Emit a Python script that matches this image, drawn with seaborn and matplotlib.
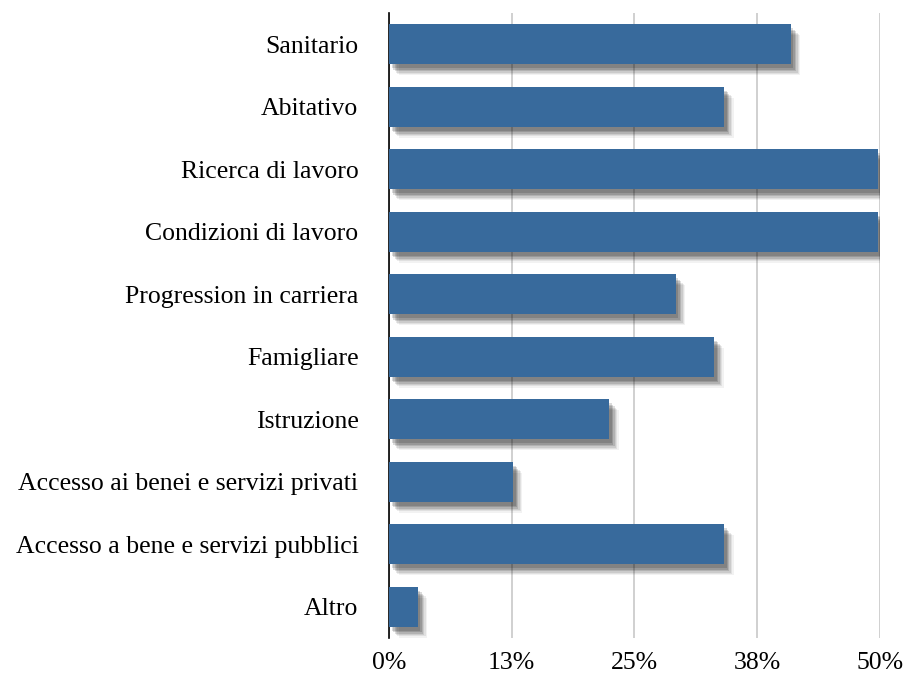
import matplotlib
matplotlib.use('Agg')
import matplotlib.pyplot as plt
import matplotlib.patheffects as pe
import pandas as pd
import seaborn as sns

# --- Data ---
categories = ['Sanitario', 'Abitativo', 'Ricerca di lavoro', 'Condizioni di lavoro',
              'Progression in carriera', 'Famigliare', 'Istruzione',
              'Accesso ai benei e servizi privati', 'Accesso a bene e servizi pubblici',
              'Altro']
values = [40.9, 34.1, 49.8, 49.8, 29.2, 33.1, 22.4, 12.6, 34.1, 2.9]
tick_values = [0, 12.5, 25, 37.5, 50]
tick_labels = ['0%', '13%', '25%', '38%', '50%']

df = pd.DataFrame({'Categoria': categories, 'Valore': values})

sns.set_style('white')
plt.rcParams['font.family'] = ['Liberation Serif', 'DejaVu Serif']

fig = plt.figure(figsize=(9.09, 6.82), dpi=100)
ax = fig.add_axes([0.428, 0.0645, 0.540, 0.9165])

sns.barplot(data=df, y='Categoria', x='Valore', orient='h', color='#386a9c',
            saturation=1, width=0.64, linewidth=0, ax=ax, zorder=3)

# soft drop shadow built from a few stacked offsets
shadow = []
for dx, dy, a in [(7, -8, 0.05), (6, -7, 0.07), (5, -6, 0.09), (4, -5, 0.12),
                  (3, -4, 0.14), (2, -3, 0.14)]:
    shadow.append(pe.SimplePatchShadow(offset=(dx, dy), shadow_rgbFace='black', alpha=a))
for bar in ax.patches:
    bar.set_path_effects(shadow + [pe.Normal()])

ax.set_xlim(0, 50)
ax.set_ylim(9.5, -0.5)
ax.set_xticks(tick_values)
ax.set_xticklabels(tick_labels)
ax.xaxis.grid(True, color='#c8c8c8', linewidth=1.2, zorder=0)
ax.set_axisbelow(True)
ax.set_xlabel('')
ax.set_ylabel('')

for side in ['top', 'right', 'bottom']:
    ax.spines[side].set_visible(False)
ax.spines['left'].set_color('black')
ax.spines['left'].set_linewidth(1.2)

ax.tick_params(axis='y', length=0, pad=22, labelsize=18.5, labelcolor='black')
ax.tick_params(axis='x', length=0, pad=10, labelsize=18.5, labelcolor='black')

fig.savefig('out.png', dpi=100)
